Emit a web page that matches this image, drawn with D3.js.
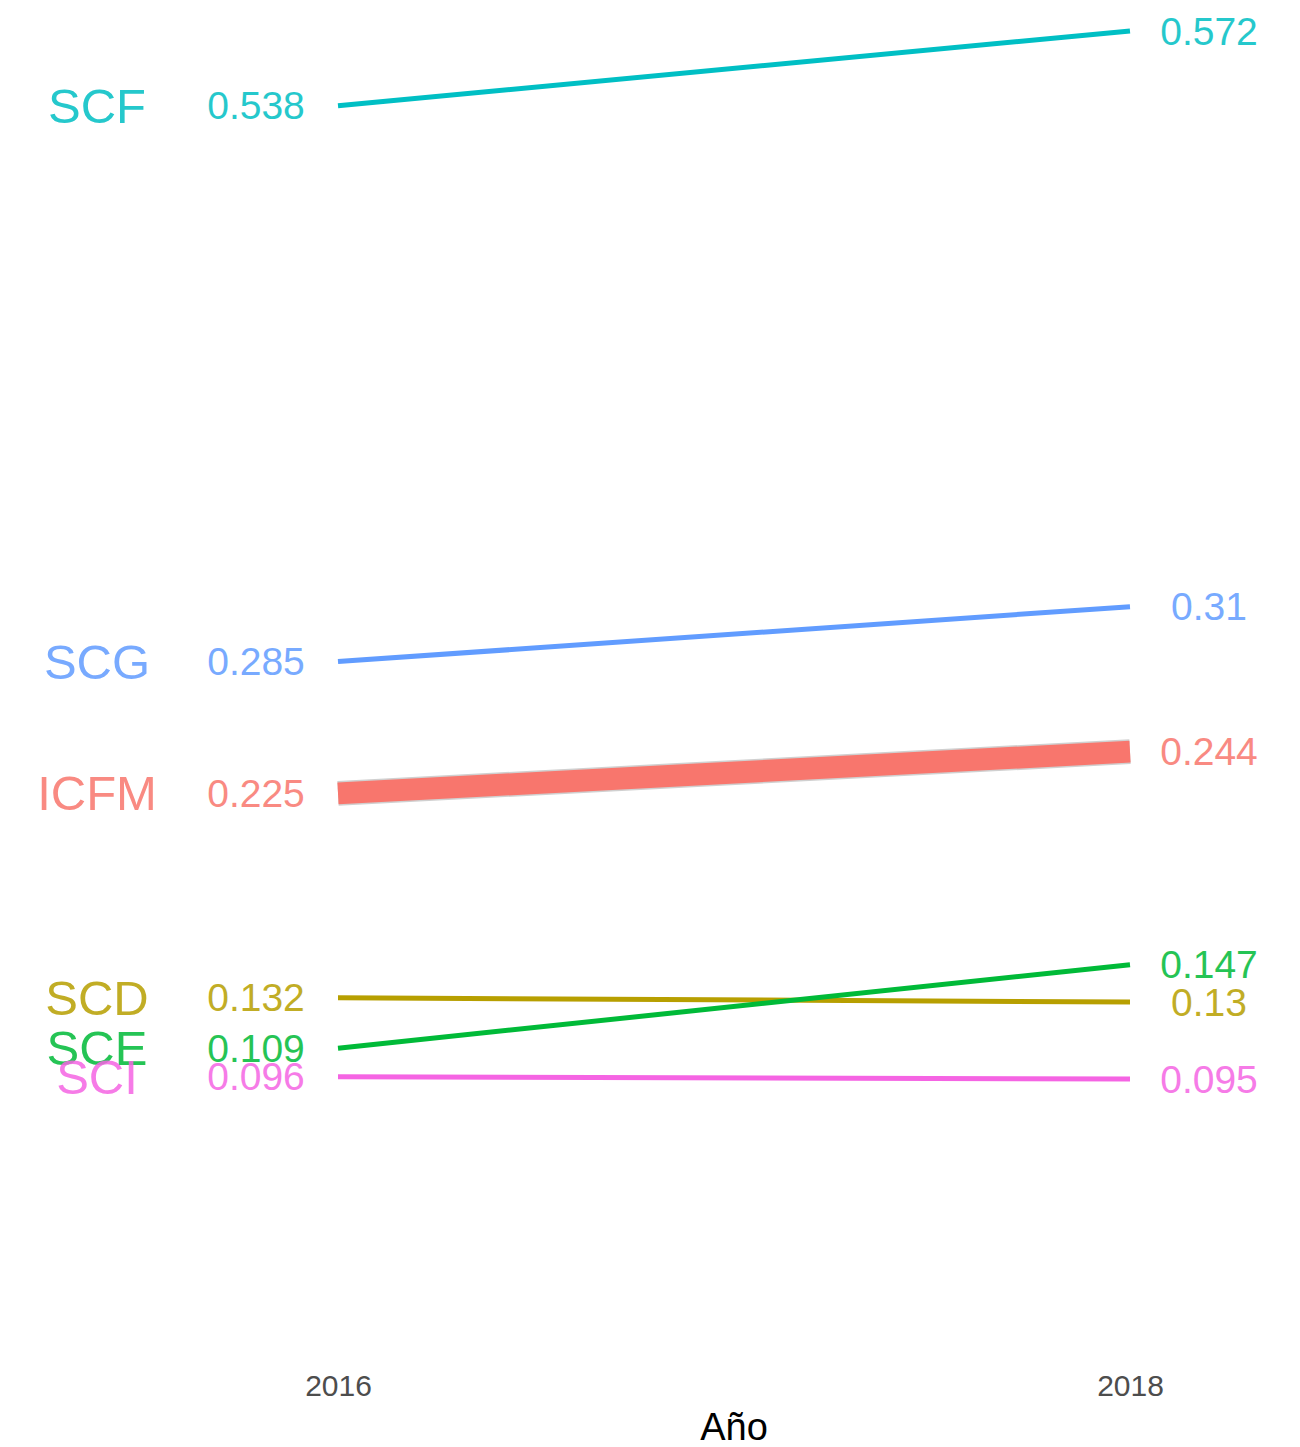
<!DOCTYPE html>
<html>
<head>
<meta charset="utf-8">
<script src="https://cdn.jsdelivr.net/npm/d3@7"></script>
<style>
  body { margin: 0; background: #fff; }
  text { font-family: "Liberation Sans", Arial, sans-serif; }
</style>
</head>
<body>
<div id="my_dataviz"></div>
<script>
// data
var years = ["2016", "2018"]
var series = ["ICFM", "SCD", "SCE", "SCF", "SCG", "SCI"]
var v2016 = [0.225, 0.132, 0.109, 0.538, 0.285, 0.096]
var v2018 = [0.244, 0.13, 0.147, 0.572, 0.31, 0.095]
var colors = ["#F8766D", "#B79F00", "#00BA38", "#00BFC4", "#619CFF", "#F564E3"]

var width = 1300
var height = 1447

var svg = d3.select("#my_dataviz")
    .append("svg")
    .attr("width", width)
    .attr("height", height)

var data = series.map(function(s, i) {
    return { name: s, a: v2016[i], b: v2018[i], color: colors[i] }
})

var x = d3.scalePoint()
    .domain(years)
    .range([338, 1130])

var y = d3.scaleLinear()
    .domain([0.095, 0.572])
    .range([1079, 31])

// lines (ICFM highlighted)
var g = svg.append("g")
data.forEach(function(d) {
    if (d.name == "ICFM") {
        g.append("line")
            .attr("x1", x("2016")).attr("y1", y(d.a))
            .attr("x2", x("2018")).attr("y2", y(d.b))
            .style("stroke", "#d0d0d0")
            .style("stroke-width", 25)
    }
    g.append("line")
        .attr("x1", x("2016")).attr("y1", y(d.a))
        .attr("x2", x("2018")).attr("y2", y(d.b))
        .style("stroke", d.color)
        .style("stroke-width", d.name == "ICFM" ? 22 : 5)
})

// labels on the left: category + value
svg.append("g").selectAll("text")
    .data(data)
    .enter()
    .append("text")
    .attr("x", 97)
    .attr("y", function(d) { return y(d.a) })
    .attr("text-anchor", "middle")
    .attr("dominant-baseline", "central")
    .style("font-size", "49px")
    .style("fill", function(d) { return d.color })
    .style("opacity", 0.85)
    .text(function(d) { return d.name })

svg.append("g").selectAll("text")
    .data(data)
    .enter()
    .append("text")
    .attr("x", 256)
    .attr("y", function(d) { return y(d.a) })
    .attr("text-anchor", "middle")
    .attr("dominant-baseline", "central")
    .style("font-size", "39px")
    .style("fill", function(d) { return d.color })
    .style("opacity", 0.85)
    .text(function(d) { return d.a })

// labels on the right
svg.append("g").selectAll("text")
    .data(data)
    .enter()
    .append("text")
    .attr("x", 1209)
    .attr("y", function(d) { return y(d.b) })
    .attr("text-anchor", "middle")
    .attr("dominant-baseline", "central")
    .style("font-size", "39px")
    .style("fill", function(d) { return d.color })
    .style("opacity", 0.85)
    .text(function(d) { return d.b })

// x axis (no line, no ticks)
var xAxis = svg.append("g")
    .attr("transform", "translate(0,1373)")
    .call(d3.axisBottom(x).tickSize(0).tickPadding(0))
xAxis.select(".domain").remove()
xAxis.selectAll("text")
    .attr("dy", "0.75em")
    .style("font-size", "30px")
    .style("font-family", "Liberation Sans, Arial, sans-serif")
    .style("fill", "#4d4d4d")

svg.append("text")
    .attr("x", (x("2016") + x("2018")) / 2)
    .attr("y", 1440)
    .attr("text-anchor", "middle")
    .style("font-size", "38px")
    .style("fill", "#000")
    .text("Año")
</script>
</body>
</html>
